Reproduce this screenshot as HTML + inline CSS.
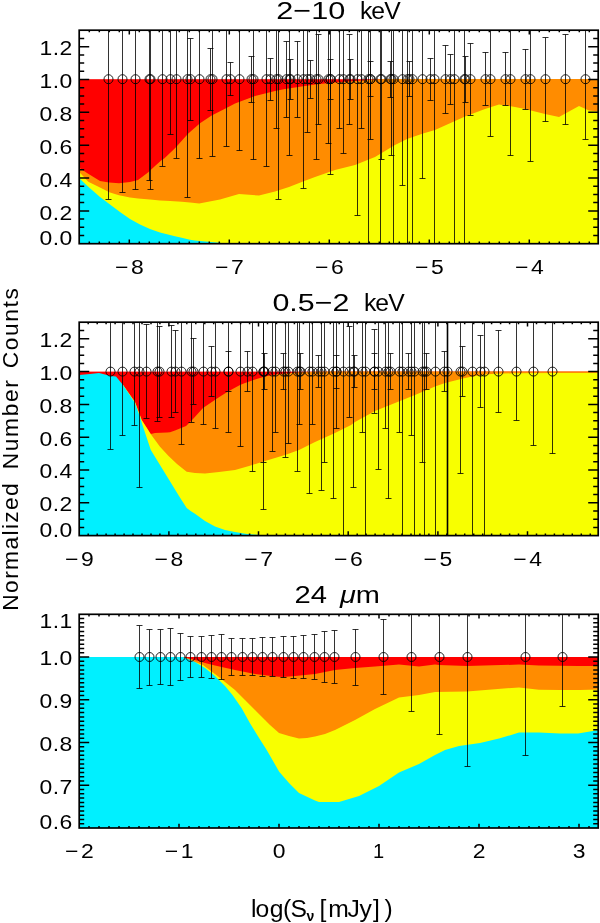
<!DOCTYPE html>
<html><head><meta charset="utf-8"><title>Normalized Number Counts</title>
<style>
html,body{margin:0;padding:0;background:#fff}
svg{display:block}
text{font-family:"Liberation Sans","DejaVu Sans",sans-serif;fill:#000}
.t{font-size:20.1px}
.T{font-size:24.7px}
.Y{font-size:22.8px}
</style></head><body>
<svg width="600" height="923" viewBox="0 0 600 923">
<rect width="600" height="923" fill="#fff"/>
<clipPath id="cp1"><rect x="79.2" y="30.2" width="519.0" height="213.5"/></clipPath>
<g clip-path="url(#cp1)">
<rect x="79.2" y="79.2" width="519.0" height="164.5" fill="#ff0000"/>
<polygon points="79.0,245.7 79.0,167.5 87.0,173.0 100.0,181.0 109.0,182.6 119.0,183.3 130.0,182.0 138.0,180.0 148.0,172.5 155.0,166.0 161.7,160.0 164.2,158.5 175.0,148.3 188.3,133.5 200.0,123.3 211.7,115.5 225.0,108.8 235.0,103.5 245.0,99.8 255.0,96.0 265.0,93.4 275.0,91.0 285.0,89.0 295.0,87.4 305.0,86.0 315.0,84.6 335.0,82.6 355.0,81.0 375.0,79.6 385.0,79.0 599.0,79.0 599.0,245.7" fill="#ff8c00"/>
<polygon points="79.0,245.7 79.0,171.7 88.3,181.7 100.0,187.5 110.0,192.5 119.0,195.3 130.0,197.5 138.0,198.4 150.0,199.6 160.0,200.4 170.0,201.0 181.7,201.8 190.0,202.5 199.2,203.5 220.0,199.4 239.0,194.0 259.0,195.6 275.0,191.6 289.0,187.0 303.0,181.6 315.0,177.0 335.0,170.0 355.0,165.0 375.0,157.0 395.0,145.0 407.0,139.0 423.0,133.5 435.0,130.0 455.0,121.0 465.0,116.6 485.0,109.0 499.0,104.4 515.0,107.0 525.0,109.0 545.0,114.0 559.0,117.0 579.0,106.0 589.0,110.6 599.0,111.4 599.0,245.7" fill="#f8ff00"/>
<polygon points="79.0,245.7 79.0,178.0 88.0,186.5 100.0,197.0 110.0,204.5 120.0,212.0 130.0,219.0 140.0,224.5 150.0,229.0 160.0,232.6 165.0,233.8 175.0,236.3 181.7,237.7 190.0,239.8 195.0,240.6 227.0,243.4 232.0,245.0 232.0,245.7" fill="#00f0ff"/>
<path d="M108.5 30.2V199.5M105.5 199.5h6M122.5 30.2V192.5M119.5 192.5h6M135.5 30.2V189.5M132.5 189.5h6M149.5 30.2V180.5M146.5 180.5h6M150.5 30.2V189.5M147.5 189.5h6M162.5 30.2V166.5M159.5 166.5h6M170.5 30.2V134.5M167.5 134.5h6M176.5 30.2V158.5M173.5 158.5h6M187.5 30.2V197.5M184.5 197.5h6M190.5 38.5V120.5M187.5 38.5h6M187.5 120.5h6M199.5 30.2V158.5M196.5 158.5h6M210.5 48.5V110.5M207.5 48.5h6M207.5 110.5h6M212.5 30.2V156.5M209.5 156.5h6M226.5 30.2V146.5M223.5 146.5h6M230.5 62.5V95.5M227.5 62.5h6M227.5 95.5h6M239.5 30.2V150.5M236.5 150.5h6M251.5 56.5V102.5M248.5 56.5h6M248.5 102.5h6M253.5 30.2V159.5M250.5 159.5h6M266.5 30.2V166.5M263.5 166.5h6M270.5 58.5V100.5M267.5 58.5h6M267.5 100.5h6M276.5 30.2V128.5M273.5 128.5h6M278.5 30.2V199.5M275.5 199.5h6M286.5 41.5V117.5M283.5 41.5h6M283.5 117.5h6M289.5 30.2V155.5M286.5 155.5h6M290.5 59.5V99.5M287.5 59.5h6M287.5 99.5h6M297.5 41.5V117.5M294.5 41.5h6M294.5 117.5h6M303.5 30.2V188.5M300.5 188.5h6M307.5 30.2V132.5M304.5 132.5h6M310.5 60.5V98.5M307.5 60.5h6M307.5 98.5h6M316.5 30.2V159.5M313.5 159.5h6M318.5 34.5V124.5M315.5 34.5h6M315.5 124.5h6M328.5 30.2V143.5M325.5 143.5h6M330.5 59.5V99.5M327.5 59.5h6M327.5 99.5h6M330.5 30.2V174.5M327.5 174.5h6M339.5 30.2V128.5M336.5 128.5h6M343.5 30.2V153.5M340.5 153.5h6M349.5 34.5V124.5M346.5 34.5h6M346.5 124.5h6M350.5 59.5V99.5M347.5 59.5h6M347.5 99.5h6M357.5 30.2V215.5M354.5 215.5h6M361.5 30.2V128.5M358.5 128.5h6M368.5 30.2V243.7M370.5 61.5V96.5M367.5 61.5h6M367.5 96.5h6M370.5 30.2V139.5M367.5 139.5h6M380.5 30.2V243.7M381.5 30.2V159.5M378.5 159.5h6M390.5 61.5V97.5M387.5 61.5h6M387.5 97.5h6M391.5 30.2V155.5M388.5 155.5h6M393.5 30.2V243.7M402.5 30.2V185.5M399.5 185.5h6M407.5 30.2V243.7M409.5 61.5V96.5M406.5 61.5h6M406.5 96.5h6M412.5 30.2V243.7M422.5 30.2V178.5M419.5 178.5h6M430.5 58.5V100.5M427.5 58.5h6M427.5 100.5h6M434.5 30.2V243.7M445.5 45.5V113.5M442.5 45.5h6M442.5 113.5h6M450.5 54.5V104.5M447.5 54.5h6M447.5 104.5h6M454.5 30.2V243.7M464.5 30.2V243.7M465.5 56.5V102.5M462.5 56.5h6M462.5 102.5h6M470.5 43.5V115.5M467.5 43.5h6M467.5 115.5h6M485.5 52.5V105.5M482.5 52.5h6M482.5 105.5h6M490.5 30.2V136.5M487.5 136.5h6M505.5 52.5V105.5M502.5 52.5h6M502.5 105.5h6M510.5 30.2V155.5M507.5 155.5h6M525.5 49.5V109.5M522.5 49.5h6M522.5 109.5h6M530.5 30.2V161.5M527.5 161.5h6M545.5 37.5V121.5M542.5 37.5h6M542.5 121.5h6M565.5 34.5V124.5M562.5 34.5h6M562.5 124.5h6M585.5 30.2V139.5M582.5 139.5h6" stroke="#000" stroke-opacity="0.8" stroke-width="1" fill="none"/>
<g fill="none" stroke="#000" stroke-opacity="0.85" stroke-width="1"><circle cx="108.5" cy="79.2" r="4.5"/><circle cx="122.5" cy="79.2" r="4.5"/><circle cx="135.5" cy="79.2" r="4.5"/><circle cx="149.5" cy="79.2" r="4.5"/><circle cx="150.5" cy="79.2" r="4.5"/><circle cx="162.5" cy="79.2" r="4.5"/><circle cx="170.5" cy="79.2" r="4.5"/><circle cx="176.5" cy="79.2" r="4.5"/><circle cx="187.5" cy="79.2" r="4.5"/><circle cx="190.5" cy="79.2" r="4.5"/><circle cx="199.5" cy="79.2" r="4.5"/><circle cx="210.5" cy="79.2" r="4.5"/><circle cx="212.5" cy="79.2" r="4.5"/><circle cx="226.5" cy="79.2" r="4.5"/><circle cx="230.5" cy="79.2" r="4.5"/><circle cx="239.5" cy="79.2" r="4.5"/><circle cx="251.5" cy="79.2" r="4.5"/><circle cx="253.5" cy="79.2" r="4.5"/><circle cx="266.5" cy="79.2" r="4.5"/><circle cx="270.5" cy="79.2" r="4.5"/><circle cx="276.5" cy="79.2" r="4.5"/><circle cx="278.5" cy="79.2" r="4.5"/><circle cx="286.5" cy="79.2" r="4.5"/><circle cx="289.5" cy="79.2" r="4.5"/><circle cx="290.5" cy="79.2" r="4.5"/><circle cx="297.5" cy="79.2" r="4.5"/><circle cx="303.5" cy="79.2" r="4.5"/><circle cx="307.5" cy="79.2" r="4.5"/><circle cx="310.5" cy="79.2" r="4.5"/><circle cx="316.5" cy="79.2" r="4.5"/><circle cx="318.5" cy="79.2" r="4.5"/><circle cx="328.5" cy="79.2" r="4.5"/><circle cx="330.5" cy="79.2" r="4.5"/><circle cx="330.5" cy="79.2" r="4.5"/><circle cx="339.5" cy="79.2" r="4.5"/><circle cx="343.5" cy="79.2" r="4.5"/><circle cx="349.5" cy="79.2" r="4.5"/><circle cx="350.5" cy="79.2" r="4.5"/><circle cx="357.5" cy="79.2" r="4.5"/><circle cx="361.5" cy="79.2" r="4.5"/><circle cx="368.5" cy="79.2" r="4.5"/><circle cx="370.5" cy="79.2" r="4.5"/><circle cx="370.5" cy="79.2" r="4.5"/><circle cx="380.5" cy="79.2" r="4.5"/><circle cx="381.5" cy="79.2" r="4.5"/><circle cx="390.5" cy="79.2" r="4.5"/><circle cx="391.5" cy="79.2" r="4.5"/><circle cx="393.5" cy="79.2" r="4.5"/><circle cx="402.5" cy="79.2" r="4.5"/><circle cx="407.5" cy="79.2" r="4.5"/><circle cx="409.5" cy="79.2" r="4.5"/><circle cx="412.5" cy="79.2" r="4.5"/><circle cx="422.5" cy="79.2" r="4.5"/><circle cx="430.5" cy="79.2" r="4.5"/><circle cx="434.5" cy="79.2" r="4.5"/><circle cx="445.5" cy="79.2" r="4.5"/><circle cx="450.5" cy="79.2" r="4.5"/><circle cx="454.5" cy="79.2" r="4.5"/><circle cx="464.5" cy="79.2" r="4.5"/><circle cx="465.5" cy="79.2" r="4.5"/><circle cx="470.5" cy="79.2" r="4.5"/><circle cx="485.5" cy="79.2" r="4.5"/><circle cx="490.5" cy="79.2" r="4.5"/><circle cx="505.5" cy="79.2" r="4.5"/><circle cx="510.5" cy="79.2" r="4.5"/><circle cx="525.5" cy="79.2" r="4.5"/><circle cx="530.5" cy="79.2" r="4.5"/><circle cx="545.5" cy="79.2" r="4.5"/><circle cx="565.5" cy="79.2" r="4.5"/><circle cx="585.5" cy="79.2" r="4.5"/></g>
</g>
<path d="M89.3 243.7v-2.1M89.3 30.2v2.1M99.3 243.7v-2.1M99.3 30.2v2.1M109.3 243.7v-2.1M109.3 30.2v2.1M119.3 243.7v-2.1M119.3 30.2v2.1M129.3 243.7v-4.3M129.3 30.2v4.3M139.3 243.7v-2.1M139.3 30.2v2.1M149.3 243.7v-2.1M149.3 30.2v2.1M159.3 243.7v-2.1M159.3 30.2v2.1M169.3 243.7v-2.1M169.3 30.2v2.1M179.3 243.7v-2.1M179.3 30.2v2.1M189.3 243.7v-2.1M189.3 30.2v2.1M199.3 243.7v-2.1M199.3 30.2v2.1M209.3 243.7v-2.1M209.3 30.2v2.1M219.3 243.7v-2.1M219.3 30.2v2.1M229.3 243.7v-4.3M229.3 30.2v4.3M239.3 243.7v-2.1M239.3 30.2v2.1M249.3 243.7v-2.1M249.3 30.2v2.1M259.3 243.7v-2.1M259.3 30.2v2.1M269.3 243.7v-2.1M269.3 30.2v2.1M279.3 243.7v-2.1M279.3 30.2v2.1M289.3 243.7v-2.1M289.3 30.2v2.1M299.3 243.7v-2.1M299.3 30.2v2.1M309.3 243.7v-2.1M309.3 30.2v2.1M319.3 243.7v-2.1M319.3 30.2v2.1M329.3 243.7v-4.3M329.3 30.2v4.3M339.3 243.7v-2.1M339.3 30.2v2.1M349.3 243.7v-2.1M349.3 30.2v2.1M359.3 243.7v-2.1M359.3 30.2v2.1M369.3 243.7v-2.1M369.3 30.2v2.1M379.3 243.7v-2.1M379.3 30.2v2.1M389.3 243.7v-2.1M389.3 30.2v2.1M399.3 243.7v-2.1M399.3 30.2v2.1M409.3 243.7v-2.1M409.3 30.2v2.1M419.3 243.7v-2.1M419.3 30.2v2.1M429.3 243.7v-4.3M429.3 30.2v4.3M439.3 243.7v-2.1M439.3 30.2v2.1M449.3 243.7v-2.1M449.3 30.2v2.1M459.3 243.7v-2.1M459.3 30.2v2.1M469.3 243.7v-2.1M469.3 30.2v2.1M479.3 243.7v-2.1M479.3 30.2v2.1M489.3 243.7v-2.1M489.3 30.2v2.1M499.3 243.7v-2.1M499.3 30.2v2.1M509.3 243.7v-2.1M509.3 30.2v2.1M519.3 243.7v-2.1M519.3 30.2v2.1M529.3 243.7v-4.3M529.3 30.2v4.3M539.3 243.7v-2.1M539.3 30.2v2.1M549.3 243.7v-2.1M549.3 30.2v2.1M559.3 243.7v-2.1M559.3 30.2v2.1M569.3 243.7v-2.1M569.3 30.2v2.1M579.3 243.7v-2.1M579.3 30.2v2.1M589.3 243.7v-2.1M589.3 30.2v2.1M79.2 235.5h5M598.2 235.5h-5M79.2 227.3h5M598.2 227.3h-5M79.2 219.1h5M598.2 219.1h-5M79.2 210.9h10M598.2 210.9h-10M79.2 202.6h5M598.2 202.6h-5M79.2 194.4h5M598.2 194.4h-5M79.2 186.2h5M598.2 186.2h-5M79.2 178.0h10M598.2 178.0h-10M79.2 169.8h5M598.2 169.8h-5M79.2 161.6h5M598.2 161.6h-5M79.2 153.4h5M598.2 153.4h-5M79.2 145.2h10M598.2 145.2h-10M79.2 137.0h5M598.2 137.0h-5M79.2 128.8h5M598.2 128.8h-5M79.2 120.5h5M598.2 120.5h-5M79.2 112.3h10M598.2 112.3h-10M79.2 104.1h5M598.2 104.1h-5M79.2 95.9h5M598.2 95.9h-5M79.2 87.7h5M598.2 87.7h-5M79.2 79.5h10M598.2 79.5h-10M79.2 71.3h5M598.2 71.3h-5M79.2 63.1h5M598.2 63.1h-5M79.2 54.9h5M598.2 54.9h-5M79.2 46.7h10M598.2 46.7h-10M79.2 38.4h5M598.2 38.4h-5" stroke="#000" stroke-width="1.5" fill="none"/>
<rect x="79.2" y="30.2" width="519.0" height="213.5" fill="none" stroke="#000" stroke-width="1.7"/>
<text transform="translate(115.0 274.1) scale(1.14 1)" textLength="25.2" lengthAdjust="spacing" class="t">−8</text>
<text transform="translate(215.0 274.1) scale(1.14 1)" textLength="25.2" lengthAdjust="spacing" class="t">−7</text>
<text transform="translate(315.0 274.1) scale(1.14 1)" textLength="25.2" lengthAdjust="spacing" class="t">−6</text>
<text transform="translate(415.0 274.1) scale(1.14 1)" textLength="25.2" lengthAdjust="spacing" class="t">−5</text>
<text transform="translate(515.0 274.1) scale(1.14 1)" textLength="25.2" lengthAdjust="spacing" class="t">−4</text>
<text transform="translate(39.4 54.5) scale(1.14 1)" textLength="28.9" lengthAdjust="spacing" class="t">1.2</text>
<text transform="translate(39.4 87.6) scale(1.14 1)" textLength="28.9" lengthAdjust="spacing" class="t">1.0</text>
<text transform="translate(39.4 120.6) scale(1.14 1)" textLength="28.9" lengthAdjust="spacing" class="t">0.8</text>
<text transform="translate(39.4 153.5) scale(1.14 1)" textLength="28.9" lengthAdjust="spacing" class="t">0.6</text>
<text transform="translate(39.4 186.5) scale(1.14 1)" textLength="28.9" lengthAdjust="spacing" class="t">0.4</text>
<text transform="translate(39.4 219.5) scale(1.14 1)" textLength="28.9" lengthAdjust="spacing" class="t">0.2</text>
<text transform="translate(39.4 244.5) scale(1.14 1)" textLength="28.9" lengthAdjust="spacing" class="t">0.0</text>
<text y="18.6" class="T"><tspan x="276.3" textLength="69" lengthAdjust="spacingAndGlyphs">2−10</tspan> <tspan x="360" textLength="40.6" lengthAdjust="spacing">keV</tspan></text>
<clipPath id="cp2"><rect x="79.2" y="322.2" width="519.0" height="213.40000000000003"/></clipPath>
<g clip-path="url(#cp2)">
<rect x="79.2" y="371.6" width="519.0" height="164.0" fill="#ff0000"/>
<polygon points="123.0,537.6 123.0,385.0 135.0,402.0 141.7,420.0 150.8,434.0 155.0,433.0 167.0,432.6 170.0,432.3 175.0,430.5 186.0,426.0 193.0,419.0 203.0,408.0 217.0,398.4 228.0,391.4 240.0,385.0 245.0,383.0 255.0,379.4 265.0,376.6 275.0,374.6 285.0,373.4 295.0,372.6 315.0,371.8 330.0,371.6 599.0,371.6 599.0,537.6" fill="#ff8c00"/>
<polygon points="123.0,537.6 123.0,385.0 135.0,402.0 141.7,420.0 150.8,434.2 160.0,446.7 168.3,455.8 177.0,464.0 186.7,471.7 195.0,473.0 205.0,473.6 219.0,472.0 235.0,470.0 249.0,466.0 265.0,461.0 285.0,455.0 299.0,450.0 315.0,442.0 335.0,433.0 351.0,425.0 355.0,422.0 375.0,411.0 395.0,403.0 415.0,395.0 435.0,386.6 445.0,383.0 455.0,380.6 465.0,378.0 475.0,376.0 485.0,374.6 495.0,373.8 515.0,373.2 555.0,373.0 599.0,373.0 599.0,537.6" fill="#f8ff00"/>
<polygon points="79.0,537.6 79.0,375.0 90.0,374.0 99.0,373.0 111.0,376.0 116.0,376.6 123.0,385.0 135.0,403.0 140.0,417.0 142.5,425.0 150.8,450.0 160.0,465.0 169.2,480.0 179.0,496.0 186.7,508.0 191.0,511.3 195.0,513.8 205.0,521.0 215.0,526.6 225.0,530.0 235.0,532.0 247.0,534.0 259.0,535.0 275.0,535.6 280.0,537.0 280.0,537.6" fill="#00f0ff"/>
<path d="M110.5 322.2V449.5M107.5 449.5h6M122.5 322.2V435.5M119.5 435.5h6M134.5 322.2V425.5M131.5 425.5h6M139.5 322.2V487.5M136.5 487.5h6M146.5 324.5V418.5M143.5 324.5h6M143.5 418.5h6M157.5 322.2V421.5M154.5 421.5h6M159.5 326.5V417.5M156.5 326.5h6M156.5 417.5h6M171.5 325.5V417.5M168.5 325.5h6M168.5 417.5h6M175.5 330.5V412.5M172.5 330.5h6M172.5 412.5h6M181.5 322.2V444.5M178.5 444.5h6M193.5 338.5V404.5M190.5 338.5h6M190.5 404.5h6M191.5 322.2V422.5M188.5 422.5h6M203.5 322.2V424.5M200.5 424.5h6M211.5 346.5V396.5M208.5 346.5h6M208.5 396.5h6M215.5 322.2V428.5M212.5 428.5h6M228.5 322.2V432.5M225.5 432.5h6M228.5 351.5V391.5M225.5 351.5h6M225.5 391.5h6M240.5 322.2V446.5M237.5 446.5h6M247.5 351.5V391.5M244.5 351.5h6M244.5 391.5h6M252.5 322.2V471.5M249.5 471.5h6M263.5 322.2V462.5M260.5 462.5h6M263.5 322.2V509.5M260.5 509.5h6M264.5 353.5V389.5M261.5 353.5h6M261.5 389.5h6M272.5 322.2V451.5M269.5 451.5h6M275.5 322.2V432.5M272.5 432.5h6M283.5 353.5V389.5M280.5 353.5h6M280.5 389.5h6M285.5 322.2V457.5M282.5 457.5h6M288.5 322.2V443.5M285.5 443.5h6M297.5 322.2V471.5M294.5 471.5h6M299.5 322.2V424.5M296.5 424.5h6M300.5 353.5V389.5M297.5 353.5h6M297.5 389.5h6M309.5 322.2V493.5M306.5 493.5h6M312.5 322.2V424.5M309.5 424.5h6M318.5 355.5V387.5M315.5 355.5h6M315.5 387.5h6M321.5 322.2V490.5M318.5 490.5h6M324.5 322.2V462.5M321.5 462.5h6M333.5 322.2V498.5M330.5 498.5h6M336.5 322.2V428.5M333.5 428.5h6M336.5 355.5V388.5M333.5 355.5h6M333.5 388.5h6M343.5 322.2V535.6M349.5 326.5V417.5M346.5 326.5h6M346.5 417.5h6M353.5 322.2V487.5M350.5 487.5h6M354.5 355.5V387.5M351.5 355.5h6M351.5 387.5h6M362.5 322.2V432.5M359.5 432.5h6M365.5 322.2V535.6M374.5 329.5V413.5M371.5 329.5h6M371.5 413.5h6M374.5 353.5V389.5M371.5 353.5h6M371.5 389.5h6M378.5 322.2V469.5M375.5 469.5h6M385.5 322.2V428.5M382.5 428.5h6M388.5 322.2V498.5M385.5 498.5h6M390.5 353.5V389.5M387.5 353.5h6M387.5 389.5h6M399.5 322.2V432.5M396.5 432.5h6M402.5 322.2V535.6M408.5 353.5V389.5M405.5 353.5h6M405.5 389.5h6M411.5 322.2V435.5M408.5 435.5h6M414.5 322.2V535.6M422.5 322.2V462.5M419.5 462.5h6M424.5 322.2V535.6M426.5 353.5V389.5M423.5 353.5h6M423.5 389.5h6M435.5 322.2V535.6M444.5 351.5V391.5M441.5 351.5h6M441.5 391.5h6M460.5 322.2V473.5M457.5 473.5h6M462.5 346.5V396.5M459.5 346.5h6M459.5 396.5h6M472.5 322.2V535.6M480.5 335.5V407.5M477.5 335.5h6M477.5 407.5h6M484.5 322.2V535.6M498.5 330.5V412.5M495.5 330.5h6M495.5 412.5h6M516.5 322.2V420.5M513.5 420.5h6M533.5 322.2V445.5M530.5 445.5h6M552.5 322.2V453.5M549.5 453.5h6" stroke="#000" stroke-opacity="0.8" stroke-width="1" fill="none"/>
<path d="M447.5 322.2V535.6" stroke="#000" stroke-width="1.6" fill="none"/>
<g fill="none" stroke="#000" stroke-opacity="0.85" stroke-width="1"><circle cx="110.5" cy="371.6" r="4.5"/><circle cx="122.5" cy="371.6" r="4.5"/><circle cx="134.5" cy="371.6" r="4.5"/><circle cx="139.5" cy="371.6" r="4.5"/><circle cx="146.5" cy="371.6" r="4.5"/><circle cx="157.5" cy="371.6" r="4.5"/><circle cx="159.5" cy="371.6" r="4.5"/><circle cx="171.5" cy="371.6" r="4.5"/><circle cx="175.5" cy="371.6" r="4.5"/><circle cx="181.5" cy="371.6" r="4.5"/><circle cx="193.5" cy="371.6" r="4.5"/><circle cx="191.5" cy="371.6" r="4.5"/><circle cx="203.5" cy="371.6" r="4.5"/><circle cx="211.5" cy="371.6" r="4.5"/><circle cx="215.5" cy="371.6" r="4.5"/><circle cx="228.5" cy="371.6" r="4.5"/><circle cx="228.5" cy="371.6" r="4.5"/><circle cx="240.5" cy="371.6" r="4.5"/><circle cx="247.5" cy="371.6" r="4.5"/><circle cx="252.5" cy="371.6" r="4.5"/><circle cx="263.5" cy="371.6" r="4.5"/><circle cx="263.5" cy="371.6" r="4.5"/><circle cx="264.5" cy="371.6" r="4.5"/><circle cx="272.5" cy="371.6" r="4.5"/><circle cx="275.5" cy="371.6" r="4.5"/><circle cx="283.5" cy="371.6" r="4.5"/><circle cx="285.5" cy="371.6" r="4.5"/><circle cx="288.5" cy="371.6" r="4.5"/><circle cx="297.5" cy="371.6" r="4.5"/><circle cx="299.5" cy="371.6" r="4.5"/><circle cx="300.5" cy="371.6" r="4.5"/><circle cx="309.5" cy="371.6" r="4.5"/><circle cx="312.5" cy="371.6" r="4.5"/><circle cx="318.5" cy="371.6" r="4.5"/><circle cx="321.5" cy="371.6" r="4.5"/><circle cx="324.5" cy="371.6" r="4.5"/><circle cx="333.5" cy="371.6" r="4.5"/><circle cx="336.5" cy="371.6" r="4.5"/><circle cx="336.5" cy="371.6" r="4.5"/><circle cx="343.5" cy="371.6" r="4.5"/><circle cx="349.5" cy="371.6" r="4.5"/><circle cx="353.5" cy="371.6" r="4.5"/><circle cx="354.5" cy="371.6" r="4.5"/><circle cx="362.5" cy="371.6" r="4.5"/><circle cx="365.5" cy="371.6" r="4.5"/><circle cx="374.5" cy="371.6" r="4.5"/><circle cx="374.5" cy="371.6" r="4.5"/><circle cx="378.5" cy="371.6" r="4.5"/><circle cx="385.5" cy="371.6" r="4.5"/><circle cx="388.5" cy="371.6" r="4.5"/><circle cx="390.5" cy="371.6" r="4.5"/><circle cx="399.5" cy="371.6" r="4.5"/><circle cx="402.5" cy="371.6" r="4.5"/><circle cx="408.5" cy="371.6" r="4.5"/><circle cx="411.5" cy="371.6" r="4.5"/><circle cx="414.5" cy="371.6" r="4.5"/><circle cx="422.5" cy="371.6" r="4.5"/><circle cx="424.5" cy="371.6" r="4.5"/><circle cx="426.5" cy="371.6" r="4.5"/><circle cx="435.5" cy="371.6" r="4.5"/><circle cx="444.5" cy="371.6" r="4.5"/><circle cx="447.5" cy="371.6" r="4.5"/><circle cx="460.5" cy="371.6" r="4.5"/><circle cx="462.5" cy="371.6" r="4.5"/><circle cx="472.5" cy="371.6" r="4.5"/><circle cx="480.5" cy="371.6" r="4.5"/><circle cx="484.5" cy="371.6" r="4.5"/><circle cx="498.5" cy="371.6" r="4.5"/><circle cx="516.5" cy="371.6" r="4.5"/><circle cx="533.5" cy="371.6" r="4.5"/><circle cx="552.5" cy="371.6" r="4.5"/></g>
</g>
<path d="M88.2 535.6v-2.1M88.2 322.2v2.1M97.2 535.6v-2.1M97.2 322.2v2.1M106.1 535.6v-2.1M106.1 322.2v2.1M115.1 535.6v-2.1M115.1 322.2v2.1M124.1 535.6v-2.1M124.1 322.2v2.1M133.0 535.6v-2.1M133.0 322.2v2.1M142.0 535.6v-2.1M142.0 322.2v2.1M151.0 535.6v-2.1M151.0 322.2v2.1M159.9 535.6v-2.1M159.9 322.2v2.1M168.9 535.6v-4.3M168.9 322.2v4.3M177.9 535.6v-2.1M177.9 322.2v2.1M186.8 535.6v-2.1M186.8 322.2v2.1M195.8 535.6v-2.1M195.8 322.2v2.1M204.8 535.6v-2.1M204.8 322.2v2.1M213.7 535.6v-2.1M213.7 322.2v2.1M222.7 535.6v-2.1M222.7 322.2v2.1M231.7 535.6v-2.1M231.7 322.2v2.1M240.6 535.6v-2.1M240.6 322.2v2.1M249.6 535.6v-2.1M249.6 322.2v2.1M258.5 535.6v-4.3M258.5 322.2v4.3M267.5 535.6v-2.1M267.5 322.2v2.1M276.5 535.6v-2.1M276.5 322.2v2.1M285.4 535.6v-2.1M285.4 322.2v2.1M294.4 535.6v-2.1M294.4 322.2v2.1M303.4 535.6v-2.1M303.4 322.2v2.1M312.3 535.6v-2.1M312.3 322.2v2.1M321.3 535.6v-2.1M321.3 322.2v2.1M330.3 535.6v-2.1M330.3 322.2v2.1M339.2 535.6v-2.1M339.2 322.2v2.1M348.2 535.6v-4.3M348.2 322.2v4.3M357.2 535.6v-2.1M357.2 322.2v2.1M366.1 535.6v-2.1M366.1 322.2v2.1M375.1 535.6v-2.1M375.1 322.2v2.1M384.1 535.6v-2.1M384.1 322.2v2.1M393.0 535.6v-2.1M393.0 322.2v2.1M402.0 535.6v-2.1M402.0 322.2v2.1M411.0 535.6v-2.1M411.0 322.2v2.1M419.9 535.6v-2.1M419.9 322.2v2.1M428.9 535.6v-2.1M428.9 322.2v2.1M437.9 535.6v-4.3M437.9 322.2v4.3M446.8 535.6v-2.1M446.8 322.2v2.1M455.8 535.6v-2.1M455.8 322.2v2.1M464.7 535.6v-2.1M464.7 322.2v2.1M473.7 535.6v-2.1M473.7 322.2v2.1M482.7 535.6v-2.1M482.7 322.2v2.1M491.6 535.6v-2.1M491.6 322.2v2.1M500.6 535.6v-2.1M500.6 322.2v2.1M509.6 535.6v-2.1M509.6 322.2v2.1M518.5 535.6v-2.1M518.5 322.2v2.1M527.5 535.6v-4.3M527.5 322.2v4.3M536.5 535.6v-2.1M536.5 322.2v2.1M545.4 535.6v-2.1M545.4 322.2v2.1M554.4 535.6v-2.1M554.4 322.2v2.1M563.4 535.6v-2.1M563.4 322.2v2.1M572.3 535.6v-2.1M572.3 322.2v2.1M581.3 535.6v-2.1M581.3 322.2v2.1M590.3 535.6v-2.1M590.3 322.2v2.1M79.2 527.4h5M598.2 527.4h-5M79.2 519.2h5M598.2 519.2h-5M79.2 511.0h5M598.2 511.0h-5M79.2 502.8h10M598.2 502.8h-10M79.2 494.6h5M598.2 494.6h-5M79.2 486.4h5M598.2 486.4h-5M79.2 478.2h5M598.2 478.2h-5M79.2 470.0h10M598.2 470.0h-10M79.2 461.8h5M598.2 461.8h-5M79.2 453.6h5M598.2 453.6h-5M79.2 445.4h5M598.2 445.4h-5M79.2 437.2h10M598.2 437.2h-10M79.2 429.0h5M598.2 429.0h-5M79.2 420.8h5M598.2 420.8h-5M79.2 412.6h5M598.2 412.6h-5M79.2 404.4h10M598.2 404.4h-10M79.2 396.2h5M598.2 396.2h-5M79.2 388.0h5M598.2 388.0h-5M79.2 379.8h5M598.2 379.8h-5M79.2 371.6h10M598.2 371.6h-10M79.2 363.4h5M598.2 363.4h-5M79.2 355.2h5M598.2 355.2h-5M79.2 347.0h5M598.2 347.0h-5M79.2 338.8h10M598.2 338.8h-10M79.2 330.6h5M598.2 330.6h-5" stroke="#000" stroke-width="1.5" fill="none"/>
<rect x="79.2" y="322.2" width="519.0" height="213.40000000000003" fill="none" stroke="#000" stroke-width="1.7"/>
<text transform="translate(64.9 566.0) scale(1.14 1)" textLength="25.2" lengthAdjust="spacing" class="t">−9</text>
<text transform="translate(154.6 566.0) scale(1.14 1)" textLength="25.2" lengthAdjust="spacing" class="t">−8</text>
<text transform="translate(244.3 566.0) scale(1.14 1)" textLength="25.2" lengthAdjust="spacing" class="t">−7</text>
<text transform="translate(333.9 566.0) scale(1.14 1)" textLength="25.2" lengthAdjust="spacing" class="t">−6</text>
<text transform="translate(423.5 566.0) scale(1.14 1)" textLength="25.2" lengthAdjust="spacing" class="t">−5</text>
<text transform="translate(513.2 566.0) scale(1.14 1)" textLength="25.2" lengthAdjust="spacing" class="t">−4</text>
<text transform="translate(39.4 347.2) scale(1.14 1)" textLength="28.9" lengthAdjust="spacing" class="t">1.2</text>
<text transform="translate(39.4 380.0) scale(1.14 1)" textLength="28.9" lengthAdjust="spacing" class="t">1.0</text>
<text transform="translate(39.4 412.8) scale(1.14 1)" textLength="28.9" lengthAdjust="spacing" class="t">0.8</text>
<text transform="translate(39.4 445.6) scale(1.14 1)" textLength="28.9" lengthAdjust="spacing" class="t">0.6</text>
<text transform="translate(39.4 478.4) scale(1.14 1)" textLength="28.9" lengthAdjust="spacing" class="t">0.4</text>
<text transform="translate(39.4 511.2) scale(1.14 1)" textLength="28.9" lengthAdjust="spacing" class="t">0.2</text>
<text transform="translate(39.4 536.6) scale(1.14 1)" textLength="28.9" lengthAdjust="spacing" class="t">0.0</text>
<text y="311.3" class="T"><tspan x="272.4" textLength="77" lengthAdjust="spacingAndGlyphs">0.5−2</tspan> <tspan x="364" textLength="40.6" lengthAdjust="spacing">keV</tspan></text>
<clipPath id="cp3"><rect x="79.2" y="614.3" width="519.0" height="213.70000000000005"/></clipPath>
<g clip-path="url(#cp3)">
<rect x="79.2" y="657.0" width="519.0" height="171.0" fill="#ff0000"/>
<polygon points="183.0,830.0 183.0,657.0 195.0,660.0 205.0,663.0 215.0,665.6 235.0,670.0 255.0,674.0 275.0,676.6 283.0,677.0 295.0,676.0 315.0,674.0 325.0,672.0 335.0,670.0 355.0,668.0 375.0,666.6 399.0,664.6 419.0,666.6 435.0,664.6 439.0,665.0 467.0,666.0 519.0,664.6 539.0,665.6 578.0,666.0 599.0,666.0 599.0,830.0" fill="#ff8c00"/>
<polygon points="195.0,830.0 195.0,662.0 203.0,665.0 215.0,674.0 225.0,682.0 235.0,690.0 245.0,700.0 255.0,710.0 265.0,720.0 270.0,725.0 279.0,733.0 289.0,736.0 299.0,738.6 307.0,738.0 315.0,736.6 325.0,734.0 335.0,730.0 345.0,725.0 355.0,720.0 375.0,709.0 399.0,697.4 419.0,695.0 435.0,692.0 467.0,691.4 519.0,687.4 539.0,689.8 560.0,690.0 580.0,690.0 599.0,689.4 599.0,830.0" fill="#f8ff00"/>
<polygon points="79.0,830.0 79.0,657.0 183.0,657.0 195.0,662.0 205.0,668.0 215.0,676.0 225.0,686.0 232.5,695.0 241.7,708.3 250.0,723.3 258.3,736.7 266.7,750.0 279.2,771.7 289.0,783.0 299.0,793.0 315.0,800.6 319.0,802.0 339.0,802.0 359.0,796.0 379.0,786.0 399.0,772.6 419.0,764.0 435.0,755.0 445.0,750.0 459.0,746.0 480.0,743.0 499.0,738.6 519.0,732.6 539.0,732.6 560.0,733.4 578.0,733.4 599.0,730.0 599.0,830.0" fill="#00f0ff"/>
<path d="M139.5 625.5V688.5M136.5 625.5h6M136.5 688.5h6M149.5 629.5V685.5M146.5 629.5h6M146.5 685.5h6M160.5 629.5V684.5M157.5 629.5h6M157.5 684.5h6M170.5 628.5V685.5M167.5 628.5h6M167.5 685.5h6M180.5 633.5V680.5M177.5 633.5h6M177.5 680.5h6M190.5 636.5V677.5M187.5 636.5h6M187.5 677.5h6M201.5 636.5V677.5M198.5 636.5h6M198.5 677.5h6M211.5 635.5V678.5M208.5 635.5h6M208.5 678.5h6M221.5 634.5V679.5M218.5 634.5h6M218.5 679.5h6M231.5 638.5V675.5M228.5 638.5h6M228.5 675.5h6M242.5 638.5V675.5M239.5 638.5h6M239.5 675.5h6M252.5 638.5V675.5M249.5 638.5h6M249.5 675.5h6M262.5 637.5V676.5M259.5 637.5h6M259.5 676.5h6M272.5 637.5V676.5M269.5 637.5h6M269.5 676.5h6M283.5 636.5V677.5M280.5 636.5h6M280.5 677.5h6M293.5 636.5V678.5M290.5 636.5h6M290.5 678.5h6M303.5 635.5V678.5M300.5 635.5h6M300.5 678.5h6M314.5 634.5V679.5M311.5 634.5h6M311.5 679.5h6M324.5 631.5V682.5M321.5 631.5h6M321.5 682.5h6M334.5 630.5V683.5M331.5 630.5h6M331.5 683.5h6M355.5 629.5V685.5M352.5 629.5h6M352.5 685.5h6M383.5 619.5V694.5M380.5 619.5h6M380.5 694.5h6M411.5 614.3V711.5M408.5 711.5h6M439.5 614.3V734.5M436.5 734.5h6M467.5 614.3V766.5M464.5 766.5h6M525.5 614.3V755.5M522.5 755.5h6M562.5 614.3V706.5M559.5 706.5h6" stroke="#000" stroke-opacity="0.8" stroke-width="1" fill="none"/>
<g fill="none" stroke="#000" stroke-opacity="0.85" stroke-width="1"><circle cx="139.5" cy="657.0" r="4.5"/><circle cx="149.5" cy="657.0" r="4.5"/><circle cx="160.5" cy="657.0" r="4.5"/><circle cx="170.5" cy="657.0" r="4.5"/><circle cx="180.5" cy="657.0" r="4.5"/><circle cx="190.5" cy="657.0" r="4.5"/><circle cx="201.5" cy="657.0" r="4.5"/><circle cx="211.5" cy="657.0" r="4.5"/><circle cx="221.5" cy="657.0" r="4.5"/><circle cx="231.5" cy="657.0" r="4.5"/><circle cx="242.5" cy="657.0" r="4.5"/><circle cx="252.5" cy="657.0" r="4.5"/><circle cx="262.5" cy="657.0" r="4.5"/><circle cx="272.5" cy="657.0" r="4.5"/><circle cx="283.5" cy="657.0" r="4.5"/><circle cx="293.5" cy="657.0" r="4.5"/><circle cx="303.5" cy="657.0" r="4.5"/><circle cx="314.5" cy="657.0" r="4.5"/><circle cx="324.5" cy="657.0" r="4.5"/><circle cx="334.5" cy="657.0" r="4.5"/><circle cx="355.5" cy="657.0" r="4.5"/><circle cx="383.5" cy="657.0" r="4.5"/><circle cx="411.5" cy="657.0" r="4.5"/><circle cx="439.5" cy="657.0" r="4.5"/><circle cx="467.5" cy="657.0" r="4.5"/><circle cx="525.5" cy="657.0" r="4.5"/><circle cx="562.5" cy="657.0" r="4.5"/></g>
</g>
<path d="M89.0 828v-2.1M89.0 614.3v2.1M99.0 828v-2.1M99.0 614.3v2.1M109.0 828v-2.1M109.0 614.3v2.1M119.0 828v-2.1M119.0 614.3v2.1M129.0 828v-2.1M129.0 614.3v2.1M139.0 828v-2.1M139.0 614.3v2.1M149.0 828v-2.1M149.0 614.3v2.1M159.0 828v-2.1M159.0 614.3v2.1M169.0 828v-2.1M169.0 614.3v2.1M179.0 828v-4.3M179.0 614.3v4.3M189.0 828v-2.1M189.0 614.3v2.1M199.0 828v-2.1M199.0 614.3v2.1M209.0 828v-2.1M209.0 614.3v2.1M219.0 828v-2.1M219.0 614.3v2.1M229.0 828v-2.1M229.0 614.3v2.1M239.0 828v-2.1M239.0 614.3v2.1M249.0 828v-2.1M249.0 614.3v2.1M259.0 828v-2.1M259.0 614.3v2.1M269.0 828v-2.1M269.0 614.3v2.1M279.0 828v-4.3M279.0 614.3v4.3M289.0 828v-2.1M289.0 614.3v2.1M299.0 828v-2.1M299.0 614.3v2.1M309.0 828v-2.1M309.0 614.3v2.1M319.0 828v-2.1M319.0 614.3v2.1M329.0 828v-2.1M329.0 614.3v2.1M339.0 828v-2.1M339.0 614.3v2.1M349.0 828v-2.1M349.0 614.3v2.1M359.0 828v-2.1M359.0 614.3v2.1M369.0 828v-2.1M369.0 614.3v2.1M379.0 828v-4.3M379.0 614.3v4.3M389.0 828v-2.1M389.0 614.3v2.1M399.0 828v-2.1M399.0 614.3v2.1M409.0 828v-2.1M409.0 614.3v2.1M419.0 828v-2.1M419.0 614.3v2.1M429.0 828v-2.1M429.0 614.3v2.1M439.0 828v-2.1M439.0 614.3v2.1M449.0 828v-2.1M449.0 614.3v2.1M459.0 828v-2.1M459.0 614.3v2.1M469.0 828v-2.1M469.0 614.3v2.1M479.0 828v-4.3M479.0 614.3v4.3M489.0 828v-2.1M489.0 614.3v2.1M499.0 828v-2.1M499.0 614.3v2.1M509.0 828v-2.1M509.0 614.3v2.1M519.0 828v-2.1M519.0 614.3v2.1M529.0 828v-2.1M529.0 614.3v2.1M539.0 828v-2.1M539.0 614.3v2.1M549.0 828v-2.1M549.0 614.3v2.1M559.0 828v-2.1M559.0 614.3v2.1M569.0 828v-2.1M569.0 614.3v2.1M579.0 828v-4.3M579.0 614.3v4.3M589.0 828v-2.1M589.0 614.3v2.1M79.2 823.7h5M598.2 823.7h-5M79.2 819.5h5M598.2 819.5h-5M79.2 815.2h5M598.2 815.2h-5M79.2 810.9h5M598.2 810.9h-5M79.2 806.6h5M598.2 806.6h-5M79.2 802.4h5M598.2 802.4h-5M79.2 798.1h5M598.2 798.1h-5M79.2 793.8h5M598.2 793.8h-5M79.2 789.5h5M598.2 789.5h-5M79.2 785.3h10M598.2 785.3h-10M79.2 781.0h5M598.2 781.0h-5M79.2 776.7h5M598.2 776.7h-5M79.2 772.4h5M598.2 772.4h-5M79.2 768.2h5M598.2 768.2h-5M79.2 763.9h5M598.2 763.9h-5M79.2 759.6h5M598.2 759.6h-5M79.2 755.3h5M598.2 755.3h-5M79.2 751.1h5M598.2 751.1h-5M79.2 746.8h5M598.2 746.8h-5M79.2 742.5h10M598.2 742.5h-10M79.2 738.2h5M598.2 738.2h-5M79.2 734.0h5M598.2 734.0h-5M79.2 729.7h5M598.2 729.7h-5M79.2 725.4h5M598.2 725.4h-5M79.2 721.2h5M598.2 721.2h-5M79.2 716.9h5M598.2 716.9h-5M79.2 712.6h5M598.2 712.6h-5M79.2 708.3h5M598.2 708.3h-5M79.2 704.1h5M598.2 704.1h-5M79.2 699.8h10M598.2 699.8h-10M79.2 695.5h5M598.2 695.5h-5M79.2 691.2h5M598.2 691.2h-5M79.2 687.0h5M598.2 687.0h-5M79.2 682.7h5M598.2 682.7h-5M79.2 678.4h5M598.2 678.4h-5M79.2 674.1h5M598.2 674.1h-5M79.2 669.9h5M598.2 669.9h-5M79.2 665.6h5M598.2 665.6h-5M79.2 661.3h5M598.2 661.3h-5M79.2 657.0h10M598.2 657.0h-10M79.2 652.8h5M598.2 652.8h-5M79.2 648.5h5M598.2 648.5h-5M79.2 644.2h5M598.2 644.2h-5M79.2 639.9h5M598.2 639.9h-5M79.2 635.7h5M598.2 635.7h-5M79.2 631.4h5M598.2 631.4h-5M79.2 627.1h5M598.2 627.1h-5M79.2 622.8h5M598.2 622.8h-5M79.2 618.6h5M598.2 618.6h-5" stroke="#000" stroke-width="1.5" fill="none"/>
<rect x="79.2" y="614.3" width="519.0" height="213.70000000000005" fill="none" stroke="#000" stroke-width="1.7"/>
<text transform="translate(64.9 858.4) scale(1.14 1)" textLength="25.2" lengthAdjust="spacing" class="t">−2</text>
<text transform="translate(164.7 858.4) scale(1.14 1)" textLength="25.2" lengthAdjust="spacing" class="t">−1</text>
<text transform="translate(272.8 858.4) scale(1.14 1)" textLength="11.1" lengthAdjust="spacing" class="t">0</text>
<text x="378.5" y="858.4" text-anchor="middle" class="t">1</text>
<text transform="translate(472.8 858.4) scale(1.14 1)" textLength="11.1" lengthAdjust="spacing" class="t">2</text>
<text transform="translate(572.8 858.4) scale(1.14 1)" textLength="11.1" lengthAdjust="spacing" class="t">3</text>
<text transform="translate(39.4 628.2) scale(1.14 1)" textLength="28.9" lengthAdjust="spacing" class="t">1.1</text>
<text transform="translate(39.4 665.3) scale(1.14 1)" textLength="28.9" lengthAdjust="spacing" class="t">1.0</text>
<text transform="translate(39.4 708.0) scale(1.14 1)" textLength="28.9" lengthAdjust="spacing" class="t">0.9</text>
<text transform="translate(39.4 750.8) scale(1.14 1)" textLength="28.9" lengthAdjust="spacing" class="t">0.8</text>
<text transform="translate(39.4 793.6) scale(1.14 1)" textLength="28.9" lengthAdjust="spacing" class="t">0.7</text>
<text transform="translate(39.4 829.0) scale(1.14 1)" textLength="28.9" lengthAdjust="spacing" class="t">0.6</text>
<text y="602.8" class="T"><tspan x="294.6" textLength="32.5" lengthAdjust="spacingAndGlyphs">24</tspan> <tspan x="340" textLength="40" lengthAdjust="spacingAndGlyphs"><tspan font-style="italic">μ</tspan>m</tspan></text>
<text transform="translate(18.3 610) rotate(-90)" class="Y"><tspan x="-0.7" textLength="127.5" lengthAdjust="spacing">Normalized</tspan> <tspan x="140.8" textLength="89" lengthAdjust="spacing">Number</tspan> <tspan x="241.8" textLength="80" lengthAdjust="spacing">Counts</tspan></text>
<text y="917" class="T" x="251 255.5 269.8 283 290.5 306.5 319.5 328.3 347.5 359.5 373 384.5">log(S<tspan font-size="14px" font-weight="bold" dy="3.5">ν</tspan><tspan dy="-3.5">[mJy])</tspan></text>
</svg>
</body></html>
